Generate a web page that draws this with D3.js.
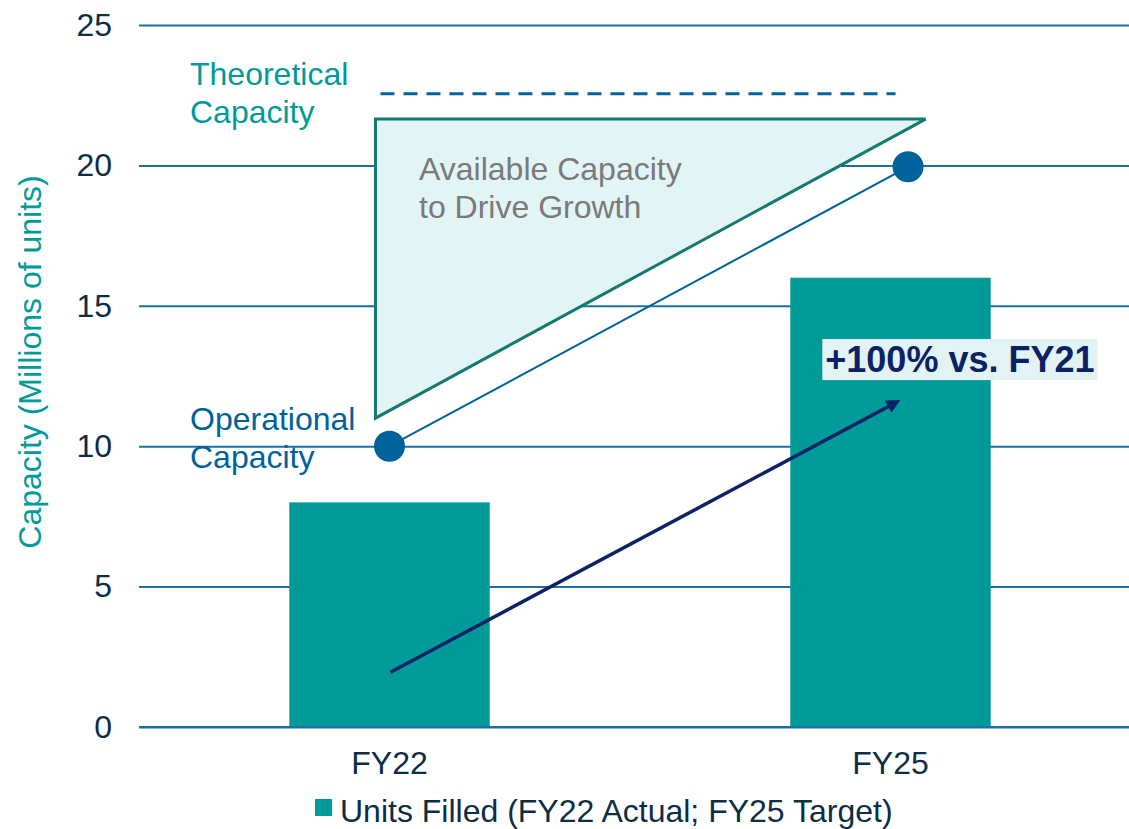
<!DOCTYPE html>
<html>
<head>
<meta charset="utf-8">
<script src="https://cdn.jsdelivr.net/npm/d3@7"></script>
<style>
  body { margin: 0; background: #fff; }
  svg text { font-family: "Liberation Sans", Arial, sans-serif; }
</style>
</head>
<body>
<svg class="capacity-chart"></svg>
<script>
// data
var categories = ["FY22", "FY25"];
var unitsFilled = [8, 16];
var yTicks = [0, 5, 10, 15, 20, 25];

// overlay values, t = position along the period axis (0 = FY22, 1 = FY25)
var operational = [{t: 0, v: 10}, {t: 1.035, v: 19.95}];
var theoreticalLevel = 22.55;
var theoreticalSpan = [-0.018, 1.01];
var availableTriangle = [{t: -0.028, v: 21.65}, {t: -0.028, v: 11}, {t: 1.07, v: 21.65}];
var growthArrow = [{t: 0.002, v: 1.95}, {t: 1.01, v: 11.55}];
var growthLabel = "+100% vs. FY21";
var legendLabel = "Units Filled (FY22 Actual; FY25 Target)";

(function(){
  var width = 1129, height = 829;
  var svg = d3.select(".capacity-chart").attr("width", width).attr("height", height);

  var mLeft = 139, mRight = 1141, mTop = 25, mBottom = 727;
  var fs = "32px";

  var x = d3.scaleBand()
    .domain(categories)
    .range([mLeft, mRight])
    .paddingInner(0.6)
    .paddingOuter(0.3);

  var y = d3.scaleLinear().domain([0, 25]).range([mBottom, mTop]);

  // continuous scale through the two band centres
  var xt = d3.scaleLinear()
    .domain([0, 1])
    .range([x("FY22") + x.bandwidth() / 2, x("FY25") + x.bandwidth() / 2]);

  var teal = "#009b98", blue = "#1d6fa0", navy = "#0b2265", dark = "#0d2d45";

  // gridlines + tick labels
  var yAxis = d3.axisLeft(y).tickValues(yTicks).tickSize(-(width - mLeft)).tickPadding(27);
  var gY = svg.append("g").attr("transform", "translate(" + mLeft + ",0)").call(yAxis);
  gY.select(".domain").remove();
  gY.selectAll(".tick line").attr("stroke", blue).attr("stroke-width", 2);
  gY.selectAll(".tick text").attr("fill", dark).style("font-size", fs);

  // bars
  svg.append("g").selectAll("rect")
    .data(unitsFilled)
    .enter()
    .append("rect")
    .attr("x", function(d, i){ return x(categories[i]); })
    .attr("y", function(d){ return y(d); })
    .attr("width", x.bandwidth())
    .attr("height", function(d){ return y(0) - y(d); })
    .attr("fill", teal);

  // redraw baseline over bars
  svg.append("line")
    .attr("x1", mLeft).attr("x2", width)
    .attr("y1", y(0)).attr("y2", y(0))
    .attr("stroke", blue).attr("stroke-width", 2);

  // x axis labels
  var xAxis = d3.axisBottom(x).tickSize(0).tickPadding(24);
  var gX = svg.append("g").attr("transform", "translate(0," + y(0) + ")").call(xAxis);
  gX.select(".domain").remove();
  gX.selectAll(".tick text").attr("fill", dark).style("font-size", fs);

  // theoretical capacity dashed line
  svg.append("line")
    .attr("x1", xt(theoreticalSpan[0])).attr("x2", xt(theoreticalSpan[1]))
    .attr("y1", y(theoreticalLevel)).attr("y2", y(theoreticalLevel))
    .attr("stroke", "#00629b").attr("stroke-width", 3)
    .attr("stroke-dasharray", "14,9");

  // available capacity triangle
  var ptLine = d3.line()
    .x(function(d){ return xt(d.t); })
    .y(function(d){ return y(d.v); });

  svg.append("path")
    .datum(availableTriangle)
    .attr("d", function(d){ return ptLine(d) + "Z"; })
    .attr("fill", "#e3f4f4")
    .attr("stroke", "#127a6e")
    .attr("stroke-width", 3);

  // operational capacity line + points
  svg.append("path")
    .datum(operational)
    .attr("d", ptLine)
    .attr("fill", "none")
    .attr("stroke", "#00629b")
    .attr("stroke-width", 2);

  svg.append("g").selectAll("circle")
    .data(operational)
    .enter()
    .append("circle")
    .attr("cx", function(d){ return xt(d.t); })
    .attr("cy", function(d){ return y(d.v); })
    .attr("r", 15.5)
    .attr("fill", "#00629b");

  // growth arrow
  svg.append("defs").append("marker")
    .attr("id", "arrowhead")
    .attr("viewBox", "0 0 10 10")
    .attr("refX", 6).attr("refY", 5)
    .attr("markerWidth", 4).attr("markerHeight", 4)
    .attr("orient", "auto")
    .append("path")
    .attr("d", "M0,0 L10,5 L0,10 Z")
    .attr("fill", navy);

  svg.append("path")
    .datum(growthArrow)
    .attr("d", ptLine)
    .attr("stroke", navy)
    .attr("stroke-width", 3.5)
    .attr("fill", "none")
    .attr("marker-end", "url(#arrowhead)");

  // growth label box
  var labelG = svg.append("g");
  var labelText = labelG.append("text")
    .attr("x", xt(1) - x.bandwidth() / 2 + 35)
    .attr("y", y(12.64))
    .attr("fill", navy)
    .style("font-size", "36px")
    .style("font-weight", "bold")
    .text(growthLabel);
  var bb = labelText.node().getBBox();
  labelG.insert("rect", "text")
    .attr("x", bb.x - 3).attr("y", bb.y)
    .attr("width", bb.width + 6).attr("height", bb.height)
    .attr("fill", "#e3f3f3");

  // annotations
  function multiLine(lines, tx, v, color){
    var t = svg.append("text")
      .attr("x", tx)
      .attr("y", y(v))
      .attr("fill", color)
      .style("font-size", fs);
    lines.forEach(function(s, i){
      t.append("tspan").attr("x", tx).attr("dy", i == 0 ? 0 : 38).text(s);
    });
  }
  multiLine(["Theoretical", "Capacity"], 190, 22.86, teal);
  multiLine(["Operational", "Capacity"], 190, 10.57, "#00629b");
  multiLine(["Available Capacity", "to Drive Growth"], 419, 19.48, "#7a7a7a");

  // axis title
  svg.append("text")
    .attr("transform", "translate(41," + 362 + ") rotate(-90)")
    .attr("text-anchor", "middle")
    .attr("fill", teal)
    .style("font-size", fs)
    .text("Capacity (Millions of units)");

  // legend
  var legend = svg.append("g").attr("transform", "translate(315,799)");
  legend.append("rect").attr("width", 17).attr("height", 17).attr("fill", teal);
  legend.append("text")
    .attr("x", 25).attr("y", 23)
    .attr("fill", dark)
    .style("font-size", fs)
    .text(legendLabel);
})();
</script>
</body>
</html>
